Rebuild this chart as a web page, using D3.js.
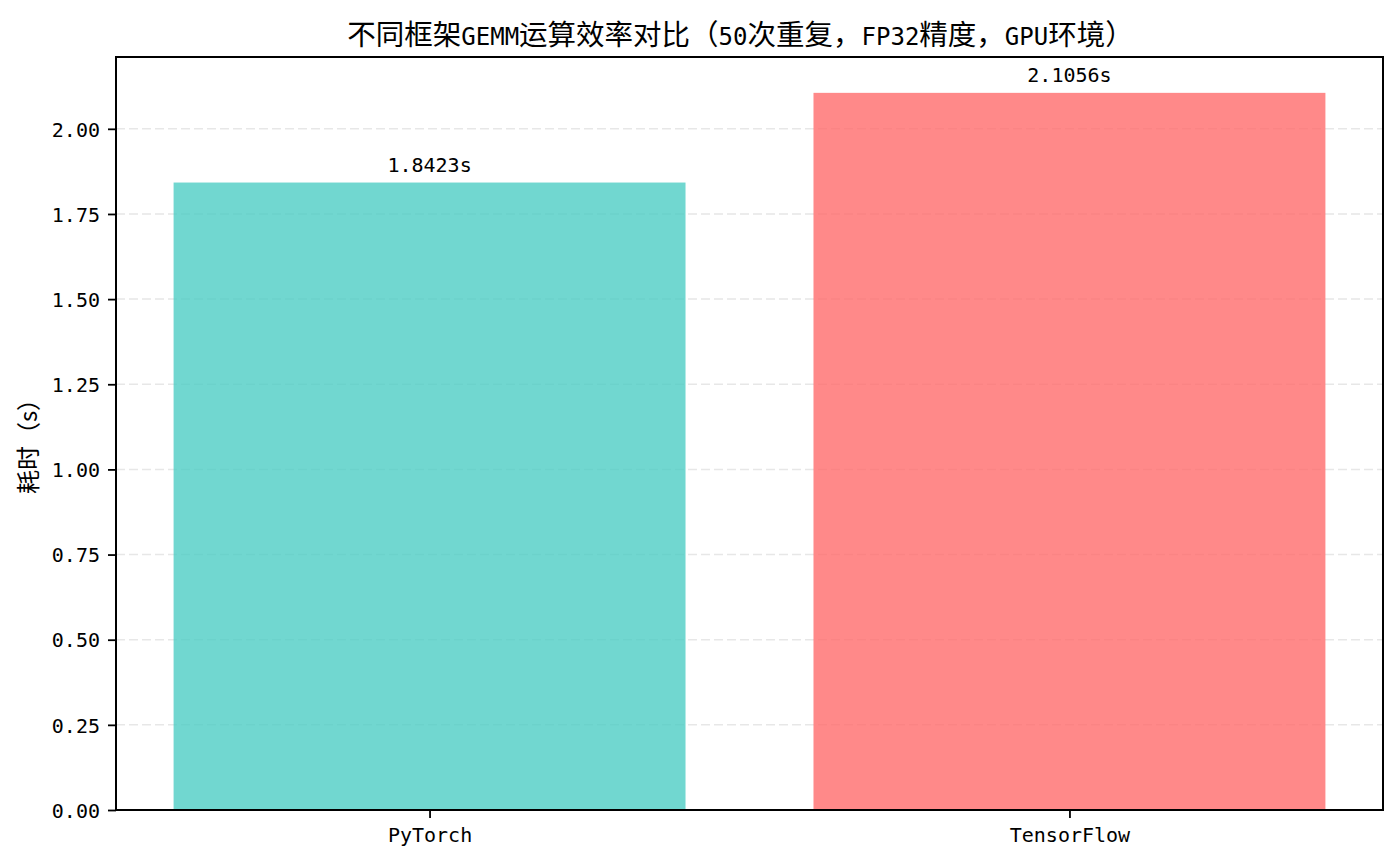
<!DOCTYPE html>
<html>
<head>
<meta charset="utf-8">
<script src="https://cdn.jsdelivr.net/npm/d3@7"></script>
<style>
  body { margin: 0; background: #fff; }
  svg text { fill: #000; }
</style>
</head>
<body>
<svg id="chart" width="1400" height="866"></svg>
<script>
// data
var frameworks = ["PyTorch", "TensorFlow"];
var timesSec = [1.8423, 2.1056];
var barColors = ["#4ECDC4", "#FF6B6B"];
var yTicks = [0, 0.25, 0.5, 0.75, 1.0, 1.25, 1.5, 1.75, 2.0];
var titleText = "不同框架GEMM运算效率对比（50次重复，FP32精度，GPU环境）";
var yLabelText = "耗时（s）";

var svg = d3.select("#chart");
var monoFont = "'DejaVu Sans Mono', 'Noto Sans CJK SC', monospace";
var cjkFont = "'Noto Sans CJK SC', sans-serif";

var margin = {left: 116, right: 17, top: 57, bottom: 56};
var W = 1400, H = 866;
var x0 = margin.left, x1 = W - margin.right;
var y0 = H - margin.bottom, y1 = margin.top;

// matplotlib style limits: bars 0.8 wide, 5% margins
var xs = d3.scaleLinear().domain([-0.49, 1.49]).range([x0, x1]);
var ys = d3.scaleLinear().domain([0, d3.max(timesSec) * 1.05]).range([y0, y1]);

// grid
svg.append("g").selectAll("line")
    .data(yTicks)
    .enter().append("line")
      .attr("x1", x0).attr("x2", x1)
      .attr("y1", function(d){ return ys(d); })
      .attr("y2", function(d){ return ys(d); })
      .attr("stroke", "#b0b0b0")
      .attr("stroke-opacity", 0.3)
      .attr("stroke-width", 1.5)
      .attr("stroke-dasharray", "9,4");

// bars
svg.append("g").selectAll("rect")
    .data(timesSec)
    .enter().append("rect")
      .attr("x", function(d, i){ return xs(i - 0.4); })
      .attr("width", function(d, i){ return xs(i + 0.4) - xs(i - 0.4); })
      .attr("y", function(d){ return ys(d); })
      .attr("height", function(d){ return ys(0) - ys(d); })
      .attr("fill", function(d, i){ return barColors[i]; })
      .attr("fill-opacity", 0.8);

// value labels
svg.append("g").selectAll("text")
    .data(timesSec)
    .enter().append("text")
      .attr("x", function(d, i){ return xs(i); })
      .attr("y", function(d){ return ys(d) - 11; })
      .attr("text-anchor", "middle")
      .style("font-family", monoFont)
      .style("font-size", "20px")
      .text(function(d){ return d.toFixed(4) + "s"; });

// axes
var yAxis = d3.axisLeft(ys).tickValues(yTicks).tickFormat(d3.format(".2f"))
    .tickSize(8).tickPadding(8);
var gy = svg.append("g").attr("transform", "translate(" + x0 + ",0)").call(yAxis);
var xAxis = d3.axisBottom(xs).tickValues([0, 1])
    .tickFormat(function(d){ return frameworks[d]; })
    .tickSize(8).tickPadding(8);
var gx = svg.append("g").attr("transform", "translate(0," + y0 + ")").call(xAxis);
[gx, gy].forEach(function(g){
  g.select(".domain").remove();
  g.selectAll(".tick line").attr("stroke", "#000").attr("stroke-width", 1.8);
  g.selectAll(".tick text")
    .style("font-family", monoFont)
    .style("font-size", "20px")
    .attr("fill", "#000");
});
gy.selectAll(".tick text").attr("dy", "0.36em");
gx.selectAll(".tick text").attr("dy", "0.8em");

// frame
svg.append("rect")
    .attr("x", x0).attr("y", y1)
    .attr("width", x1 - x0).attr("height", y0 - y1)
    .attr("fill", "none")
    .attr("stroke", "#000")
    .attr("stroke-width", 2);

// title, split into ascii / cjk runs so latin stays half width like SimHei
var title = svg.append("text")
    .attr("x", (x0 + x1) / 2 - 9)
    .attr("y", 45)
    .attr("text-anchor", "middle");
var runs = titleText.match(/[\x00-\x7f]+|[^\x00-\x7f]+/g);
runs.forEach(function(r){
  var ascii = /^[\x00-\x7f]+$/.test(r);
  title.append("tspan")
    .style("font-family", ascii ? monoFont : cjkFont)
    .style("font-size", ascii ? "24px" : "28.5px")
    .text(r);
});

// y label
svg.append("text")
    .attr("transform", "translate(37," + ((y0 + y1) / 2 + 7) + ") rotate(-90)")
    .attr("text-anchor", "middle")
    .style("font-family", cjkFont)
    .style("font-size", "24px")
    .text(yLabelText);
</script>
</body>
</html>
